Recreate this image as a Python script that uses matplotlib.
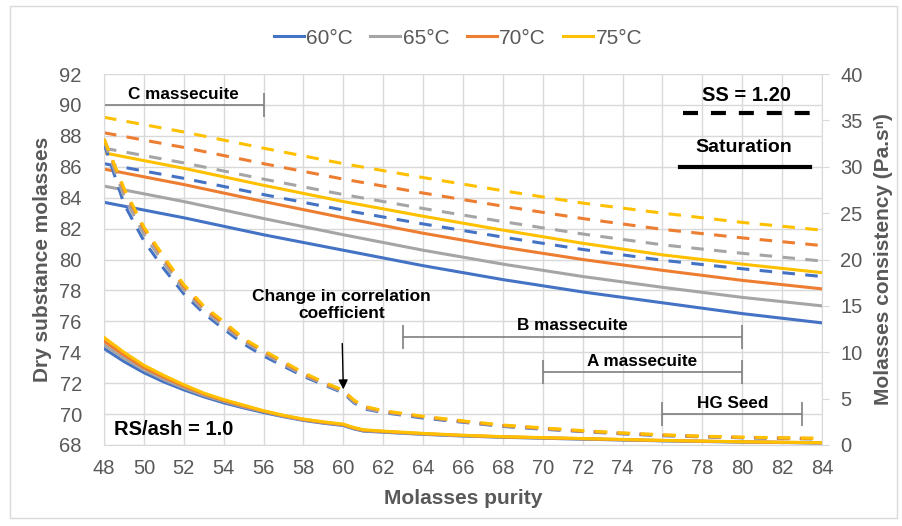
import numpy as np
import matplotlib
matplotlib.use("Agg")
import matplotlib.pyplot as plt

plt.rcParams['font.family'] = ['Liberation Sans', 'DejaVu Sans']

# ---- data ----
temps = ["60°C", "65°C", "70°C", "75°C"]
colors = ["#4472C4", "#A5A5A5", "#ED7D31", "#FFC000"]

# dry substance (left axis)
purity_ds = [48, 52, 56, 60, 64, 68, 72, 76, 80, 84]
ds_sat_60 = [83.7, 82.7, 81.6, 80.6, 79.6, 78.7, 77.9, 77.2, 76.5, 75.9]
ds_sat_65 = [84.75, 83.75, 82.65, 81.6, 80.6, 79.7, 78.9, 78.2, 77.55, 77.0]
ds_sat_70 = [85.85, 84.85, 83.75, 82.7, 81.7, 80.8, 80.0, 79.3, 78.65, 78.1]
ds_sat_75 = [86.9, 85.9, 84.8, 83.75, 82.8, 81.9, 81.05, 80.3, 79.7, 79.15]
ds_ss_60 = [86.2, 85.25, 84.2, 83.2, 82.3, 81.45, 80.65, 79.95, 79.4, 78.9]
ds_ss_65 = [87.2, 86.25, 85.2, 84.2, 83.3, 82.45, 81.65, 80.95, 80.4, 79.9]
ds_ss_70 = [88.2, 87.25, 86.2, 85.2, 84.3, 83.45, 82.65, 81.95, 81.4, 80.9]
ds_ss_75 = [89.2, 88.25, 87.2, 86.2, 85.3, 84.45, 83.65, 83.0, 82.4, 81.9]

# consistency (right axis)
purity_k = [48, 49, 50, 51, 52, 53, 54, 55, 56, 57, 58, 59, 60, 60.5, 61, 62,
            64, 66, 68, 70, 72, 74, 76, 78, 80, 82, 84]
k_sat_60 = [10.4, 9.0, 7.8, 6.8, 5.95, 5.2, 4.55, 4.0, 3.5, 3.05, 2.65, 2.35, 2.1,
            1.75, 1.5, 1.38, 1.15, 0.97, 0.83, 0.73, 0.63, 0.54, 0.45, 0.38, 0.32, 0.27, 0.22]
k_sat_65 = [10.8, 9.35, 8.1, 7.05, 6.15, 5.35, 4.7, 4.1, 3.6, 3.1, 2.7, 2.4, 2.15,
            1.8, 1.55, 1.42, 1.18, 1.0, 0.86, 0.76, 0.65, 0.56, 0.47, 0.4, 0.33, 0.28, 0.23]
k_sat_70 = [11.2, 9.7, 8.35, 7.3, 6.35, 5.5, 4.8, 4.2, 3.65, 3.15, 2.75, 2.45, 2.2,
            1.85, 1.6, 1.46, 1.22, 1.03, 0.88, 0.78, 0.68, 0.58, 0.49, 0.41, 0.34, 0.29, 0.24]
k_sat_75 = [11.6, 10.0, 8.6, 7.5, 6.5, 5.6, 4.9, 4.3, 3.7, 3.2, 2.8, 2.5, 2.25,
            1.9, 1.65, 1.5, 1.25, 1.05, 0.9, 0.8, 0.7, 0.6, 0.5, 0.42, 0.35, 0.3, 0.25]
k_ss_60 = [32.5, 26.0, 22.0, 19.0, 16.3, 14.2, 12.5, 10.9, 9.6, 8.5, 7.4, 6.5, 5.6,
           4.6, 3.9, 3.5, 2.9, 2.45, 2.0, 1.7, 1.45, 1.2, 1.0, 0.88, 0.78, 0.7, 0.65]
k_ss_65 = [32.8, 26.8, 22.7, 19.6, 16.7, 14.5, 12.8, 11.2, 9.9, 8.7, 7.55, 6.6, 5.7,
           4.7, 4.0, 3.55, 3.0, 2.5, 2.05, 1.75, 1.48, 1.24, 1.04, 0.9, 0.8, 0.72, 0.67]
k_ss_70 = [33.0, 27.5, 23.3, 20.1, 17.1, 14.8, 13.1, 11.4, 10.1, 8.9, 7.7, 6.7, 5.85,
           4.85, 4.15, 3.65, 3.05, 2.55, 2.1, 1.8, 1.5, 1.27, 1.07, 0.92, 0.82, 0.75, 0.7]
k_ss_75 = [33.0, 27.7, 23.5, 20.3, 17.3, 15.0, 13.3, 11.5, 10.2, 9.0, 7.8, 6.8, 5.9,
           4.9, 4.2, 3.7, 3.1, 2.6, 2.15, 1.85, 1.55, 1.3, 1.1, 0.95, 0.85, 0.78, 0.72]

ds_sat = [ds_sat_60, ds_sat_65, ds_sat_70, ds_sat_75]
ds_ss = [ds_ss_60, ds_ss_65, ds_ss_70, ds_ss_75]
k_sat = [k_sat_60, k_sat_65, k_sat_70, k_sat_75]
k_ss = [k_ss_60, k_ss_65, k_ss_70, k_ss_75]

# massecuite ranges: label, start, end, bar level (left axis)
ranges = [("C massecuite", 48, 56, 90.0),
          ("B massecuite", 63, 80, 75.0),
          ("A massecuite", 70, 80, 72.7),
          ("HG Seed", 76, 83, 70.0)]

# ---- plot ----
fig = plt.figure(figsize=(9.03, 5.26), dpi=100)
ax = fig.add_axes([0.1152, 0.154, 0.7951, 0.7053])
ax2 = ax.twinx()

grid_c = "#D9D9D9"
txt_c = "#595959"
dash = (0, (4.1, 3.4))

for i in range(4):
    ax.plot(purity_ds, ds_sat[i], color=colors[i], lw=2.2, label=temps[i])
for i in range(4):
    ax.plot(purity_ds, ds_ss[i], color=colors[i], lw=2.2, ls=dash)
for i in range(4):
    ax2.plot(purity_k, k_sat[i], color=colors[i], lw=2.2)
for i in range(4):
    ax2.plot(purity_k, k_ss[i], color=colors[i], lw=2.2, ls=dash)

ax.set_xlim(48, 84)
ax.set_ylim(68, 92)
ax2.set_ylim(0, 40)
ax.set_xticks(np.arange(48, 85, 2))
ax.set_yticks(np.arange(68, 93, 2))
ax2.set_yticks(np.arange(0, 41, 5))
ax.grid(True, color=grid_c, lw=1)
ax.set_axisbelow(True)

for a in (ax, ax2):
    for s in a.spines.values():
        s.set_visible(False)
ax.spines['left'].set_visible(True)
ax.spines['left'].set_color(grid_c)
ax.spines['bottom'].set_visible(True)
ax.spines['bottom'].set_color(grid_c)
ax2.spines['right'].set_visible(True)
ax2.spines['right'].set_color(grid_c)

ax.tick_params(axis='both', length=0, labelsize=14.5, labelcolor=txt_c)
ax.tick_params(axis='y', pad=16)
ax.tick_params(axis='x', pad=10)
ax2.tick_params(axis='y', length=5, color=grid_c, labelsize=14.5, labelcolor=txt_c, pad=8)

ax.set_xlabel("Molasses purity", fontsize=15, fontweight='bold', color=txt_c, labelpad=8)
ax.set_ylabel("Dry substance molasses", fontsize=15, fontweight='bold', color=txt_c, labelpad=5)
ax2.set_ylabel("Molasses consistency (Pa.sⁿ)", fontsize=15, fontweight='bold',
               color=txt_c, labelpad=8)

# range bars
for name, x0, x1, yb in ranges:
    xc = (x0 + x1) / 2
    ax.errorbar(xc, yb, xerr=(x1 - x0) / 2, fmt='none', ecolor='#7F7F7F',
                elinewidth=1.2, capsize=8.3, capthick=1.2)
    ax.text(xc, yb + 0.7, name, ha='center', va='center', fontsize=12.3,
            fontweight='bold', color='black')

# notes for line styles
ax.text(80.2, 90.58, "SS = 1.20", ha='center', va='center', fontsize=14.5,
        fontweight='bold')
ax.plot([77.05, 83.57], [89.46, 89.46], color='black', lw=3, ls=(0, (3.6, 3.1)))
ax.text(80.1, 87.26, "Saturation", ha='center', va='center', fontsize=14,
        fontweight='bold')
ax.plot([76.9, 83.4], [86.0, 86.0], color='black', lw=3)

ax.text(48.5, 69.0, "RS/ash = 1.0", ha='left', va='center', fontsize=14.5,
        fontweight='bold')

ax.annotate("Change in correlation\ncoefficient", xy=(60.0, 71.6), xytext=(59.9, 77.05),
            ha='center', va='center', fontsize=12.5, fontweight='bold',
            arrowprops=dict(arrowstyle='-|>', color='black', lw=1, mutation_scale=14,
                            shrinkA=14, shrinkB=0))

fig.legend(loc='center', bbox_to_anchor=(458 / 903, 1 - 38 / 526), ncol=4,
           frameon=False, fontsize=15, labelcolor=txt_c, handlelength=1.44,
           handletextpad=0.1, columnspacing=0.85)

fig.add_artist(plt.Rectangle((10 / 903, 8 / 526), 887 / 903, 512 / 526, fill=False,
                             edgecolor=grid_c, lw=1, transform=fig.transFigure))

fig.savefig("out.png", dpi=100)
